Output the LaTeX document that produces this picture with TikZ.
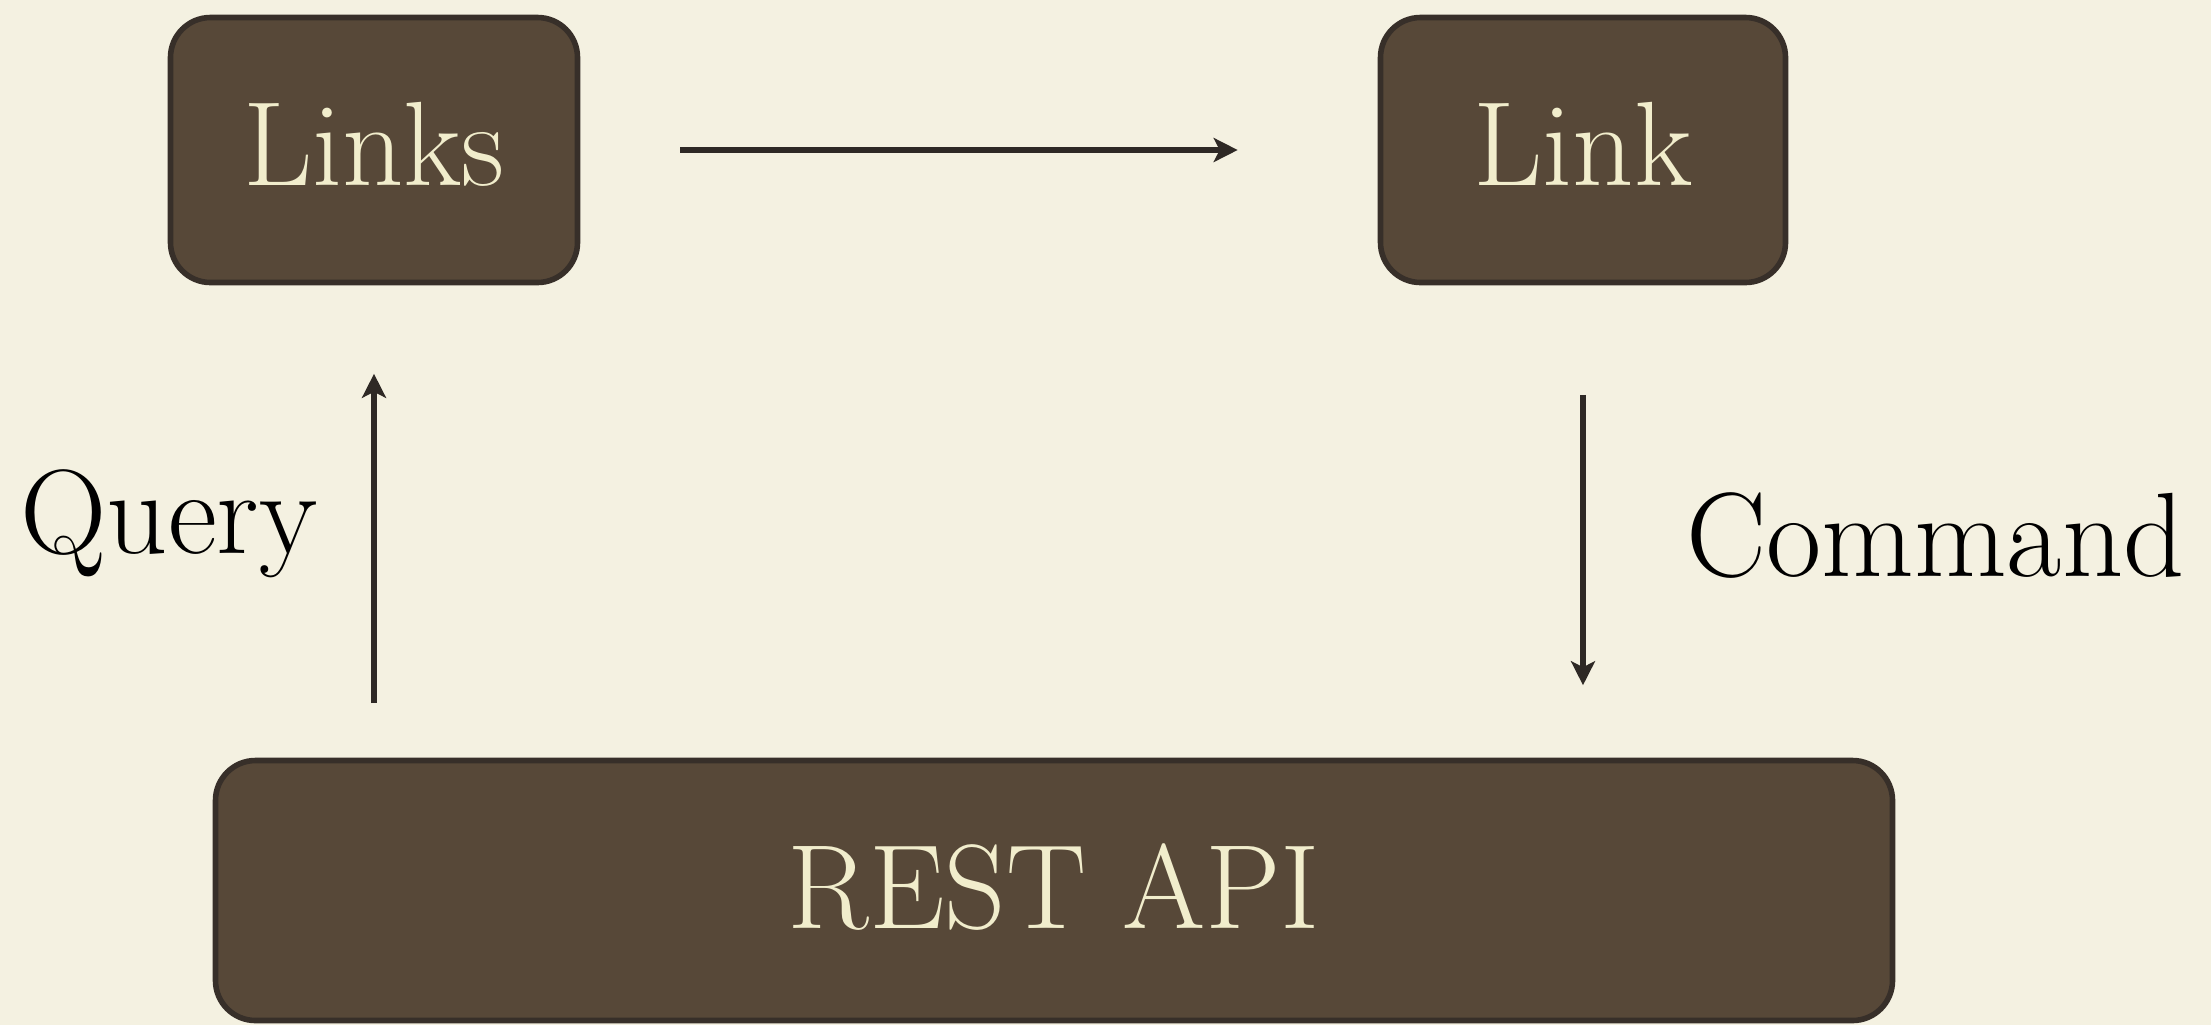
\documentclass[tikz,border=0pt]{standalone}
\usetikzlibrary{arrows.meta}
\definecolor{bg}{HTML}{F4F1E1}
\definecolor{boxfill}{HTML}{574838}
\definecolor{boxedge}{HTML}{372F29}
\definecolor{cream}{HTML}{F1EDCC}
\definecolor{arrowc}{HTML}{2E2925}
\tikzset{
  box/.style={draw=boxedge, fill=boxfill, line width=2.8pt, rounded corners=20pt,
    text=cream, font=\fontsize{60}{64}\selectfont, inner sep=0pt,
    text height=35.5pt, text depth=0pt},
  lbl/.style={text=black, font=\fontsize{60}{64}\selectfont, inner sep=0pt},
  arr/.style={draw=arrowc, line width=2.8pt, -{Stealth[length=12pt, width=12pt, inset=3pt]}}
}
\begin{document}
\begin{tikzpicture}[x=0.5pt, y=-0.5pt]
\fill[bg] (0,0) rectangle (2211,1025);
\useasboundingbox (0,0) rectangle (2211,1025);
\node[box, minimum width=203.5pt, minimum height=132.5pt] (links) at (374,150) {Links};
\node[box, minimum width=202.5pt, minimum height=132.5pt] (link) at (1583,150) {Link};
\node[box, text height=37.5pt, minimum width=838.5pt, minimum height=130pt] (rest) at (1054,890.5) {REST API};
\node[lbl, anchor=base west] (query) at (20,553) {Query};
\node[lbl, anchor=base west] (command) at (1686,576) {Command};
\draw[arr, yshift=-1.5pt, shorten <=50pt, shorten >=70pt] (links.east) -- (link.west);
\draw[arr, shorten <=27.25pt, shorten >=44.25pt] (links.south |- rest.north) -- (links.south);
\draw[arr, shorten <=54.75pt, shorten >=36.25pt] (link.south) -- (link.south |- rest.north);
\end{tikzpicture}
\end{document}
